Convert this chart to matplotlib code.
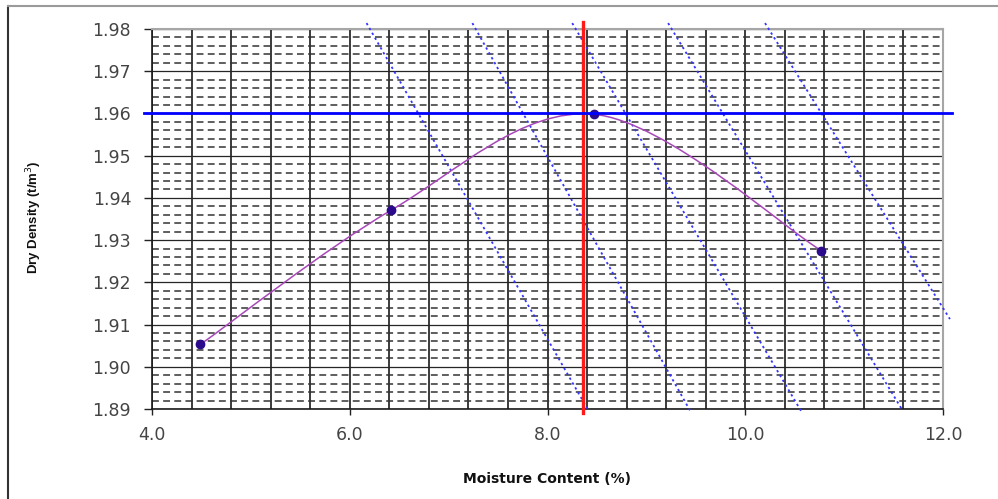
import numpy as np
import matplotlib
matplotlib.use('Agg')
import matplotlib.pyplot as plt
from matplotlib.path import Path
from matplotlib.patches import PathPatch
from matplotlib.lines import Line2D
from matplotlib.ticker import MultipleLocator, FormatStrFormatter

# compaction test points
moisture = [4.49, 6.42, 8.47, 10.77]
dry_density = [1.9053, 1.9371, 1.9598, 1.9275]

# optimum moisture content / max dry density
omc = 8.36
mdd = 1.96

# dotted saturation lines (start / end points)
sat_x0 = [6.17, 7.24, 8.25, 9.22, 10.20]
sat_y0 = [1.9814, 1.9814, 1.9814, 1.9814, 1.9814]
sat_x1 = [8.41, 9.44, 10.57, 11.59, 12.07]
sat_y1 = [1.8898, 1.8897, 1.8893, 1.8897, 1.9113]

x_ticks = [4.0, 6.0, 8.0, 10.0, 12.0]
y_ticks = [1.89, 1.90, 1.91, 1.92, 1.93, 1.94, 1.95, 1.96, 1.97, 1.98]


def smooth_path(xs, ys):
    # Excel-style smoothed line: catmull-rom segments as cubic beziers
    pts = np.column_stack([xs, ys])
    ext = np.vstack([pts[0], pts, pts[-1]])
    verts = [pts[0]]
    codes = [Path.MOVETO]
    for i in range(len(pts) - 1):
        p0, p1, p2, p3 = ext[i], ext[i + 1], ext[i + 2], ext[i + 3]
        verts += [p1 + (p2 - p0) / 6, p2 - (p3 - p1) / 6, p2]
        codes += [Path.CURVE4] * 3
    return Path(verts, codes)


fig = plt.figure(figsize=(9.98, 4.99), dpi=100)
ax = fig.add_axes([152 / 998, 90 / 499, 791 / 998, 380 / 499])

ax.set_xlim(4.0, 12.0)
ax.set_ylim(1.89, 1.98)
ax.set_xticks(x_ticks)
ax.set_yticks(y_ticks)
ax.xaxis.set_major_formatter(FormatStrFormatter('%.1f'))
ax.yaxis.set_major_formatter(FormatStrFormatter('%.2f'))
ax.xaxis.set_minor_locator(MultipleLocator(0.4))
ax.yaxis.set_minor_locator(MultipleLocator(0.002))

# gridlines
ax.set_axisbelow(True)
ax.xaxis.grid(True, which='both', color='#1a1a1a', lw=1.2)
ax.yaxis.grid(True, which='major', color='#262626', lw=0.9)
ax.yaxis.grid(True, which='minor', color='#333333', lw=1.1, ls=(0, (4.5, 2.8)))

ax.tick_params(which='minor', length=0)
ax.tick_params(axis='y', which='major', length=6, width=1, color='#222222', pad=9,
               labelsize=12.5, labelcolor='#444444')
ax.tick_params(axis='x', which='major', length=4.5, width=1, color='#222222', pad=8,
               labelsize=12.5, labelcolor='#444444')
for lab in ax.get_xticklabels() + ax.get_yticklabels():
    lab.set_family('DejaVu Sans')

for side in ['top', 'right']:
    ax.spines[side].set_color('#a6a6a6')
    ax.spines[side].set_linewidth(1.5)
for side in ['left', 'bottom']:
    ax.spines[side].set_color('#1a1a1a')
    ax.spines[side].set_linewidth(1.2)

# saturation lines
for xa, ya, xb, yb in zip(sat_x0, sat_y0, sat_x1, sat_y1):
    ax.plot([xa, xb], [ya, yb], color='#3535ff', lw=1.3, ls=(0, (1.3, 1.8)),
            clip_on=False, zorder=3)

# compaction curve
ax.add_patch(PathPatch(smooth_path(moisture, dry_density), fill=False,
                       edgecolor='#a848b8', lw=1.1, zorder=4))
ax.plot(moisture, dry_density, ls='none', marker='o', ms=6,
        color='#2b0a8c', zorder=5)

# OMC / MDD lines (extend slightly past the plot area)
ax.plot([omc, omc], [1.98166, 1.88905], color='#ff1a1a', lw=2.4,
        clip_on=False, zorder=6)
ax.plot([3.919, 12.089], [mdd, mdd], color='#0000ff', lw=2.0,
        clip_on=False, zorder=6)

fig.text(547 / 998, (499 - 479) / 499, 'Moisture Content (%)', ha='center', va='center',
         fontsize=10, fontweight='bold', family='DejaVu Sans', color='#111111')
fig.text(34 / 998, (499 - 217) / 499, 'Dry Density (t/m$^3$)', ha='center', va='center',
         rotation=90, fontsize=9.5, fontweight='bold',
         family='Liberation Sans', color='#111111')

# chart area border (only left and top edges are inside the image)
fig.add_artist(Line2D([8 / 998, 8 / 998], [0, 1 - 6 / 499], color='#333333', lw=1.5))
fig.add_artist(Line2D([8 / 998, 1], [1 - 6 / 499, 1 - 6 / 499], color='#9a9a9a', lw=1.5))

fig.savefig('out.png', dpi=100)
